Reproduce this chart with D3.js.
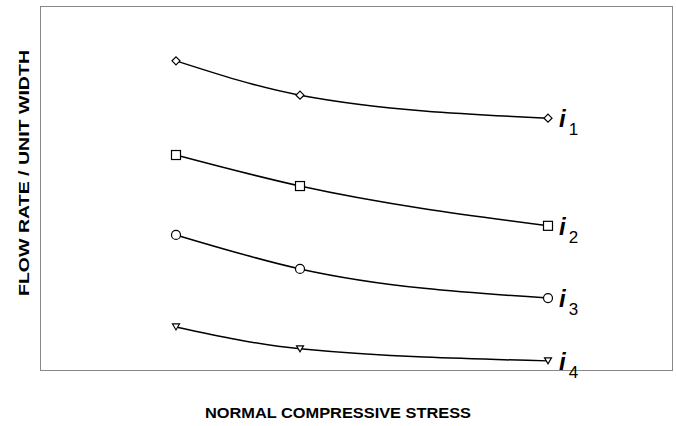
<!DOCTYPE html>
<html><head><meta charset="utf-8">
<script src="https://cdn.jsdelivr.net/npm/d3@7"></script>
<style>body{margin:0;background:#fff}svg{display:block}</style>
</head><body>
<script>
const stress = [1, 2, 4];
const seriesNames = ["i1", "i2", "i3", "i4"];
const flowI1 = [8.47, 7.53, 6.90];
const flowI2 = [5.89, 5.04, 3.95];
const flowI3 = [3.70, 2.77, 1.97];
const flowI4 = [1.18, 0.58, 0.25];
const symbolsUsed = ["diamond", "square", "circle", "triangleDown"];
const xTitle = "NORMAL COMPRESSIVE STRESS";
const yTitle = "FLOW RATE  /  UNIT WIDTH";

const W = 676, H = 426;
const svg = d3.select("body").append("svg").attr("width", W).attr("height", H);
const x = d3.scaleLinear().domain([-0.1, 5]).range([39.6, 672]);
const y = d3.scaleLinear().domain([0, 10]).range([370, 5]);

// frame
svg.append("rect").attr("x", 40.5).attr("y", 6.5).attr("width", 632).attr("height", 364)
  .attr("fill", "none").attr("stroke", "#888").attr("stroke-width", 1);

const all = [flowI1, flowI2, flowI3, flowI4];
const line = d3.line().x((d, i) => x(stress[i])).y(d => y(d)).curve(d3.curveMonotoneX);

all.forEach((vals, si) => {
  svg.append("path").attr("d", line(vals)).attr("fill", "none")
    .attr("stroke", "#000").attr("stroke-width", 1.5);
  vals.forEach((v, i) => {
    const cx = x(stress[i]), cy = y(v);
    const t = symbolsUsed[si];
    let el;
    if (t === "diamond") {
      el = svg.append("path").attr("d", `M${cx},${cy-4}L${cx+4},${cy}L${cx},${cy+4}L${cx-4},${cy}Z`);
    } else if (t === "square") {
      el = svg.append("rect").attr("x", cx-4.5).attr("y", cy-4.5).attr("width", 9).attr("height", 9);
    } else if (t === "circle") {
      el = svg.append("circle").attr("cx", cx).attr("cy", cy).attr("r", 4.5);
    } else {
      el = svg.append("path").attr("d", `M${cx-3.5},${cy-3}L${cx+3.5},${cy-3}L${cx},${cy+3}Z`);
    }
    el.attr("fill", "#fff").attr("stroke", "#000").attr("stroke-width", 1.2);
  });
  // label
  const lx = x(stress[2]) + 11, ly = y(vals[2]) + 9;
  const g = svg.append("text").attr("x", lx).attr("y", ly)
    .attr("font-family", "Liberation Sans, Arial, sans-serif").attr("font-style", "italic")
    .attr("font-weight", "bold").attr("font-size", 24).attr("fill", "#000");
  g.append("tspan").text(seriesNames[si][0]);
  g.append("tspan").attr("dx", 3).attr("dy", 8).attr("font-size", 17)
    .attr("font-weight", "normal").attr("font-style", "normal").text(seriesNames[si].slice(1));
});

svg.append("text").attr("x", 338).attr("y", 418).attr("text-anchor", "middle")
  .attr("font-family", "Liberation Sans, Arial, sans-serif").attr("font-weight", "bold")
  .attr("font-size", 15).attr("textLength", 266).attr("lengthAdjust", "spacingAndGlyphs").text(xTitle);
svg.append("text").attr("transform", "translate(29,173) rotate(-90)").attr("text-anchor", "middle")
  .attr("font-family", "Liberation Sans, Arial, sans-serif").attr("font-weight", "bold")
  .attr("font-size", 15).attr("textLength", 246).attr("lengthAdjust", "spacingAndGlyphs").text(yTitle);
</script>
</body></html>
